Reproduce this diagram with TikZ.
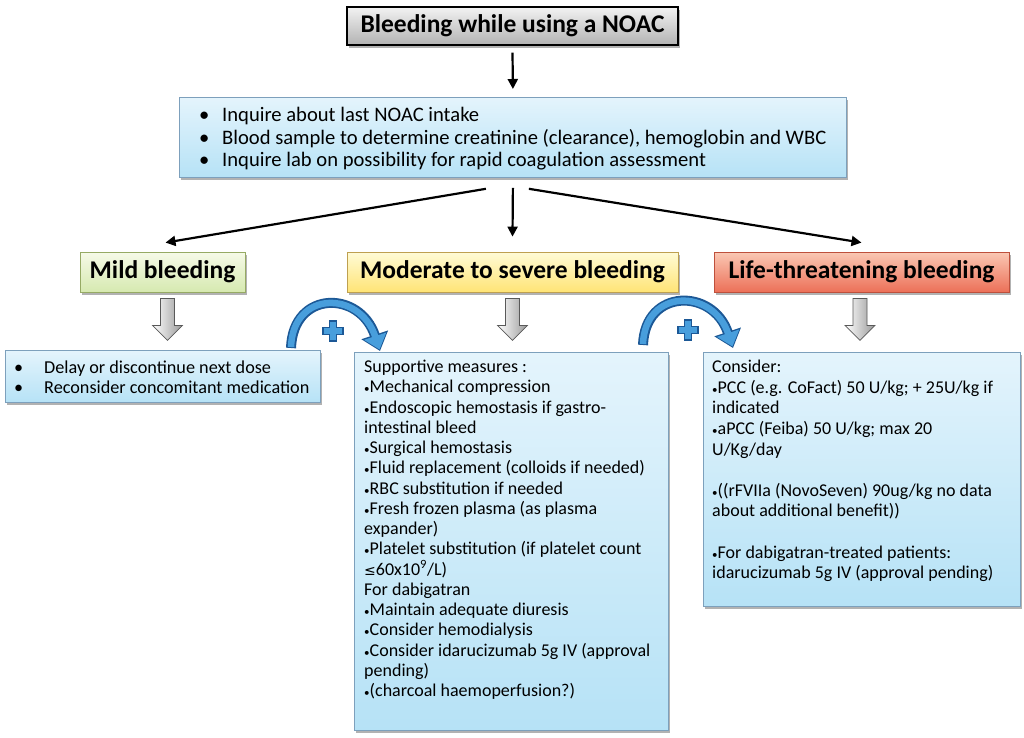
\documentclass[tikz,border=0pt]{standalone}
\usepackage{fontspec}
\setmainfont{Carlito}
\newfontfamily\dejavu{DejaVu Sans}
\usetikzlibrary{shadows,arrows.meta}
\definecolor{boxtop}{RGB}{228,244,252}
\definecolor{boxbot}{RGB}{182,226,246}
\definecolor{boxline}{RGB}{125,160,188}
\definecolor{grntop}{RGB}{246,250,232}
\definecolor{grnbot}{RGB}{214,233,176}
\definecolor{grnline}{RGB}{150,170,100}
\definecolor{yeltop}{RGB}{255,251,214}
\definecolor{yelbot}{RGB}{255,228,118}
\definecolor{yelline}{RGB}{190,160,80}
\definecolor{redtop}{RGB}{250,200,180}
\definecolor{redbot}{RGB}{236,112,88}
\definecolor{redline}{RGB}{190,80,60}
\definecolor{arcdark}{RGB}{28,88,150}
\definecolor{arclight}{RGB}{72,158,220}
\newcommand\sbul{{\fontsize{11}{11}\selectfont\textbullet}}
\newcommand\leqsym{{\dejavu\fontsize{14}{14}\selectfont ≤}}
\tikzset{
  shad/.style={drop shadow={shadow xshift=2pt,shadow yshift=-2.5pt,fill=black,opacity=0.3}},
  bluebox/.style={draw=boxline, line width=0.8pt, top color=boxtop, bottom color=boxbot, shad, inner sep=0pt, anchor=north west},
  lab/.style={line width=0.8pt, shad, inner sep=0pt, minimum height=40pt, font=\fontsize{25.5}{27}\selectfont\bfseries},
  txt/.style={anchor=north west, inner sep=0pt, align=left, font=\fontsize{18}{20.25}\selectfont},
  blk/.style={line width=2.2pt, -{Triangle[width=10pt,length=10pt]}},
  hollowsty/.style={draw=black!65, line width=0.8pt, left color=white, right color=black!40},
  hollow/.pic={\path[hollowsty] (-7,0) -- (-7,27) -- (-15,27) -- (0,42) -- (15,27) -- (7,27) -- (7,0) -- cycle;},
  arcout/.style={line width=10pt, arcdark, -{Triangle[width=27pt,length=17pt]}},
  arcin/.style={line width=6.5pt, arclight, shorten >=1.6pt, -{Triangle[width=22.5pt,length=14pt]}},
  plussty/.style={fill=arclight, draw=arcdark, line width=1.1pt},
  plus/.pic={\path[plussty] (-3.6,-10) -- (3.6,-10) -- (3.6,-3.6) -- (10,-3.6) -- (10,3.6) -- (3.6,3.6) -- (3.6,10) -- (-3.6,10) -- (-3.6,3.6) -- (-10,3.6) -- (-10,-3.6) -- (-3.6,-3.6) -- cycle;}
}
\begin{document}
\begin{tikzpicture}[x=1pt,y=-1pt]
\useasboundingbox[fill=white] (0,0) rectangle (1024,737);

% title
\node[draw=black, line width=1.3pt, top color=black!5, bottom color=black!30, shad, inner sep=0pt,
      minimum width=331pt, minimum height=38pt, font=\fontsize{25.5}{27}\selectfont\bfseries] (title) at (512.5,26) {Bleeding while using a NOAC};

% info box
\node[bluebox, minimum width=667pt, minimum height=80pt] (info) at (179,97) {};
\node[txt, font=\fontsize{20.6}{22.5}\selectfont] (infotxt) at (199,107)
  {\makebox[23pt][l]{\textbullet}Inquire about last NOAC intake\\
   \makebox[23pt][l]{\textbullet}Blood sample to determine creatinine (clearance), hemoglobin and WBC\\
   \makebox[23pt][l]{\textbullet}Inquire lab on possibility for rapid coagulation assessment};

% category labels
\node[lab, draw=grnline, top color=grntop, bottom color=grnbot, minimum width=165pt] (mildlab) at (162.5,272) {Mild bleeding};
\node[lab, draw=yelline, top color=yeltop, bottom color=yelbot, minimum width=331pt] (modlab) at (512.5,272) {Moderate to severe bleeding};
\node[lab, draw=redline, top color=redtop, bottom color=redbot, minimum width=295pt] (lifelab) at (861.5,272) {Life-threatening bleeding};

% black arrows
\draw[blk] ([yshift=-7pt]title.south) -- ([yshift=8pt]info.north);
\draw[blk] ([yshift=-10pt]info.south) -- ([yshift=15pt]modlab.north);
\draw[blk] ([xshift=-27pt,yshift=-11pt]info.south) -- ([xshift=3pt,yshift=9pt]mildlab.north);
\draw[blk] ([xshift=16pt,yshift=-11pt]info.south) -- ([xshift=0pt,yshift=9pt]lifelab.north);

% hollow arrows
\pic at ([xshift=5pt,yshift=-6pt]mildlab.south) {hollow};
\pic at ([yshift=-6pt]modlab.south) {hollow};
\pic at ([xshift=-1.5pt,yshift=-6pt]lifelab.south) {hollow};

% result boxes
\node[bluebox, minimum width=315pt, minimum height=52pt] (mildbox) at (5,350) {};
\node[txt, font=\fontsize{18.2}{20}\selectfont] (mildtxt) at (14,361)
  {\makebox[30pt][l]{\textbullet}Delay or discontinue next dose\\
   \makebox[30pt][l]{\textbullet}Reconsider concomitant medication};

\node[bluebox, minimum width=314pt, minimum height=378pt] (modbox) at (354,352) {};
\node[txt] (modtxt) at (364,360)
  {Supportive measures :\\
   \sbul Mechanical compression\\
   \sbul Endoscopic hemostasis if gastro-\\
   intestinal bleed\\
   \sbul Surgical hemostasis\\
   \sbul Fluid replacement (colloids if needed)\\
   \sbul RBC substitution if needed\\
   \sbul Fresh frozen plasma (as plasma\\
   expander)\\
   \sbul Platelet substitution (if platelet count\\
   \leqsym 60x10\textsuperscript{9}/L)\\
   For dabigatran\\
   \sbul Maintain adequate diuresis\\
   \sbul Consider hemodialysis\\
   \sbul Consider idarucizumab 5g IV (approval\\
   pending)\\
   \sbul (charcoal haemoperfusion?)};

\node[bluebox, minimum width=317pt, minimum height=254pt] (lifebox) at (703,352) {};
\node[txt, font=\fontsize{18}{20.6}\selectfont] (lifetxt) at (712,360)
  {Consider:\\
   \sbul PCC (e.g. CoFact) 50 U/kg; + 25U/kg if\\
   indicated\\
   \sbul aPCC (Feiba) 50 U/kg; max 20\\
   U/Kg/day\\
   \mbox{}\\
   \sbul ((rFVIIa (NovoSeven) 90ug/kg no data\\
   about additional benefit))\\
   \mbox{}\\
   \sbul For dabigatran-treated patients:\\
   idarucizumab 5g IV (approval pending)};

% curved plus arrows
\coordinate (c1s) at (291,348);
\coordinate (c1e) at (380,351);
\coordinate (c2s) at (643,345);
\coordinate (c2e) at (733,348);
\draw[arcout] (c1s) .. controls (293,290) and (360,290) .. (c1e);
\draw[arcin] ([yshift=1pt]c1s) .. controls (293,290) and (360,290) .. (c1e);
\draw[arcout] (c2s) .. controls (645,288) and (713,288) .. (c2e);
\draw[arcin] ([yshift=1pt]c2s) .. controls (645,288) and (713,288) .. (c2e);
\pic at (333,331) {plus};
\pic at (688,330) {plus};
\end{tikzpicture}
\end{document}
